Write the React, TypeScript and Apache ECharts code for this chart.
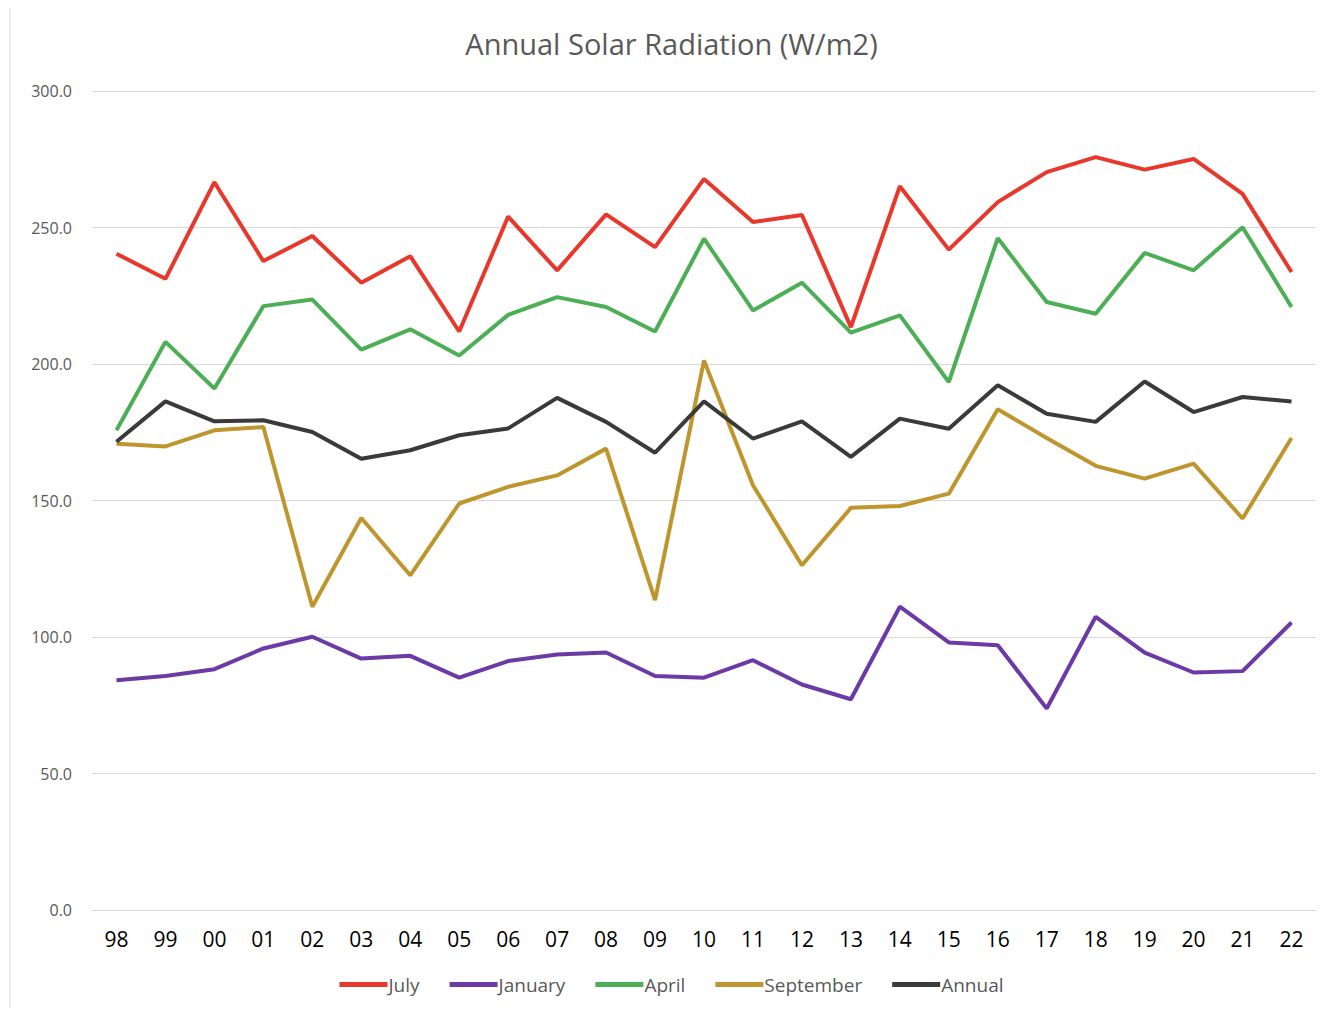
import React, { useEffect, useRef } from "react";
import * as echarts from "echarts";

const years = ["98","99","00","01","02","03","04","05","06","07","08","09","10","11","12","13","14","15","16","17","18","19","20","21","22"];
const july = [240.4,231.2,266.6,237.7,246.9,229.8,239.5,211.9,254.0,234.3,254.8,242.8,267.8,252.0,254.6,213.5,265.1,241.9,259.3,270.3,275.8,271.2,275.1,262.3,233.7];
const january = [84.2,85.7,88.2,95.8,100.1,92.1,93.1,85.1,91.2,93.6,94.3,85.7,85.1,91.5,82.6,77.2,111.1,98.0,97.0,73.8,107.4,94.3,87.0,87.5,105.3];
const april = [175.7,208.1,191.0,221.2,223.6,205.3,212.7,203.1,218.0,224.5,220.9,211.9,245.9,219.6,229.8,211.5,217.8,193.4,246.1,222.7,218.4,240.7,234.3,250.1,220.9];
const september = [170.8,169.8,175.7,176.9,111.1,143.6,122.6,148.9,155.0,159.2,169.0,113.5,201.3,155.6,126.3,147.3,148.0,152.5,183.4,172.9,162.7,158.0,163.5,143.4,172.9];
const annual = [171.5,186.3,179.0,179.4,175.1,165.3,168.4,173.9,176.4,187.6,178.8,167.5,186.3,172.7,179.0,166.0,180.0,176.3,192.2,181.8,178.8,193.6,182.4,187.9,186.3];

const seriesNames = ["July", "January", "April", "September", "Annual"];
const seriesData = [july, january, april, september, annual];
const colors = ["#E8372B", "#6B3AA5", "#4DAF55", "#BF962E", "#3A3A3A"];

const FONT = "'Liberation Sans Narrow', 'Open Sans', 'Liberation Sans', sans-serif";

export default function App() {
  const ref = useRef<HTMLDivElement>(null);
  useEffect(() => {
    if (!ref.current) return;
    const chart = echarts.init(ref.current, undefined, { renderer: "svg" });
    chart.setOption({
      animation: false,
      backgroundColor: "#ffffff",
      color: colors,
      title: {
        text: "Annual Solar Radiation (W/m2)",
        left: "center",
        top: 16,
        textStyle: { fontFamily: FONT, fontSize: 29, fontWeight: "normal", color: "#595959" },
      },
      graphic: [
        {
          type: "rect",
          shape: { x: 2, y: -3, width: 1330, height: 1020 },
          style: { fill: "none", stroke: "#d9d9d9", lineWidth: 1 },
          silent: true,
        },
      ],
      legend: {
        top: 962,
        left: "center",
        icon: "rect",
        itemWidth: 48,
        itemHeight: 5,
        itemGap: 30,
        textStyle: { fontFamily: FONT, fontSize: 19, color: "#595959", padding: [0, 0, 0, -4] },
        data: seriesNames,
      },
      grid: { left: 84, right: 19, top: 83, bottom: 98, containLabel: false },
      xAxis: {
        type: "category",
        data: years,
        boundaryGap: true,
        axisLine: { show: true, lineStyle: { color: "#d9d9d9", width: 1 } },
        axisTick: { show: false },
        axisLabel: { color: "#000000", fontSize: 21, fontFamily: FONT, margin: 18 },
      },
      yAxis: {
        type: "value",
        min: 0,
        max: 300,
        interval: 50,
        axisLine: { show: false },
        axisTick: { show: false },
        splitLine: { lineStyle: { color: "#d9d9d9", width: 1 } },
        axisLabel: {
          color: "#595959",
          fontSize: 16,
          fontFamily: FONT,
          margin: 20,
          formatter: (v: number) => v.toFixed(1),
        },
      },
      series: seriesNames.map((name, i) => ({
        name,
        type: "line",
        data: seriesData[i],
        symbol: "none",
        lineStyle: { width: 4, color: colors[i] },
        itemStyle: { color: colors[i] },
      })),
    });
    return () => chart.dispose();
  }, []);
  return <div ref={ref} style={{ width: 1327, height: 1000 }} />;
}
